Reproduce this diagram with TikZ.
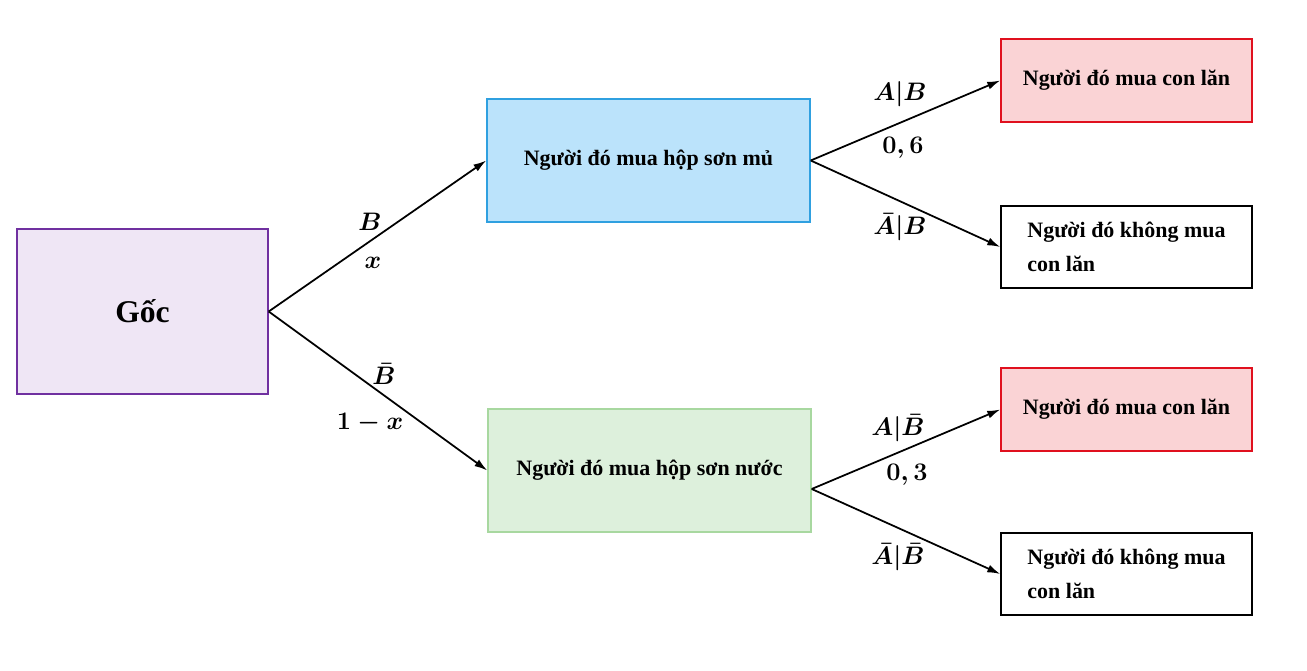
\documentclass[tikz,border=0pt]{standalone}
\usepackage[no-math]{fontspec}
\setmainfont{Liberation Serif}
\usepackage{amsmath}
\usetikzlibrary{calc,arrows.meta}
\definecolor{rootDraw}{HTML}{7030A0}
\definecolor{rootFill}{HTML}{EFE6F5}
\definecolor{blueDraw}{HTML}{2FA0E0}
\definecolor{blueFill}{HTML}{BBE3FB}
\definecolor{greenDraw}{HTML}{A8D8A0}
\definecolor{greenFill}{HTML}{DDF0DC}
\definecolor{redDraw}{HTML}{E0101E}
\definecolor{redFill}{HTML}{FAD3D5}
\begin{document}
\begin{tikzpicture}[>={Latex[length=2.6mm,width=1.6mm]},
  rootBox/.style={rectangle, draw=rootDraw, fill=rootFill, thick, minimum width=5.02cm, minimum height=3.3cm, font=\fontsize{18}{22}\selectfont\bfseries},
  midBox/.style={rectangle, thick, minimum width=6.46cm, minimum height=2.46cm, font=\fontsize{12.5}{15}\selectfont\bfseries},
  yesBox/.style={rectangle, draw=redDraw, fill=redFill, thick, minimum width=5.02cm, minimum height=1.66cm, font=\fontsize{12.5}{15}\selectfont\bfseries},
  noBox/.style={rectangle, draw, thick, minimum width=5.02cm, minimum height=1.64cm, align=left, font=\fontsize{12.5}{19}\selectfont\bfseries},
  probLabel/.style={font=\fontsize{14}{17}\selectfont\boldmath},
  branch/.style={->, line width=1pt}
]
\useasboundingbox (0,0) rectangle (26.14,13.42);
\node[rootBox] (goc) at (2.85,7.19) {Gốc};
\node[midBox, draw=blueDraw, fill=blueFill] (muaMu) at (12.97,10.21) {Người đó mua hộp sơn mủ};
\node[midBox, draw=greenDraw, fill=greenFill] (muaNuoc) at (12.99,4.01) {Người đó mua hộp sơn nước};
\node[yesBox] (lanB) at (22.53,11.81) {Người đó mua con lăn};
\node[noBox] (khongB) at (22.53,8.48) {Người đó không mua\\con lăn};
\node[yesBox] (lanNB) at (22.53,5.23) {Người đó mua con lăn};
\node[noBox] (khongNB) at (22.53,1.94) {Người đó không mua\\con lăn};
\coordinate (nuocOut) at ($(muaNuoc.east)+(0,-0.37)$);
\draw[branch] (goc.east) -- (muaMu.west);
\draw[branch] (goc.east) -- (muaNuoc.west);
\draw[branch] (muaMu.east) -- (lanB.west);
\draw[branch] (muaMu.east) -- (khongB.west);
\draw[branch] (nuocOut) -- (lanNB.west);
\draw[branch] (nuocOut) -- (khongNB.west);
\node[probLabel] at (7.40,8.98) {$B$};
\node[probLabel] at (7.46,8.16) {$x$};
\node[probLabel] at (7.68,5.94) {$\bar{B}$};
\node[probLabel] at (7.40,4.96) {$1-x$};
\node[probLabel] at (18.0,11.54) {$A|B$};
\node[probLabel] at (18.06,10.46) {$0,6$};
\node[probLabel] at (18.0,8.88) {$\bar{A}|B$};
\node[probLabel] at (17.96,4.86) {$A|\bar{B}$};
\node[probLabel] at (18.14,3.92) {$0,3$};
\node[probLabel] at (17.96,2.28) {$\bar{A}|\bar{B}$};
\end{tikzpicture}
\end{document}
